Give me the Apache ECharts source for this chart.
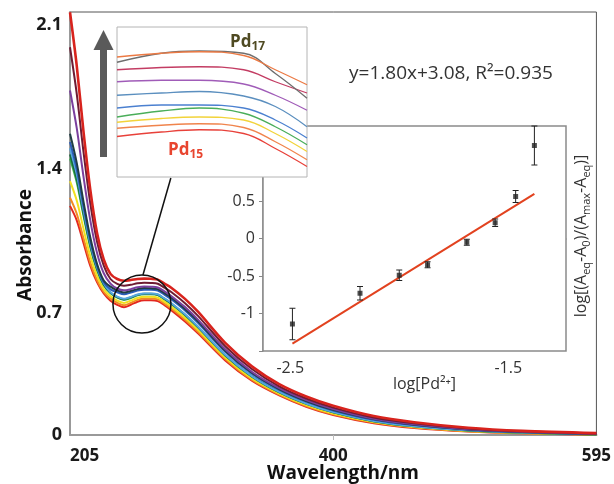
<!DOCTYPE html>
<html><head><meta charset="utf-8">
<script src="https://cdn.jsdelivr.net/npm/echarts@6/dist/echarts.min.js"></script>
<style>html,body{margin:0;padding:0;background:#fff}#c{width:614px;height:484px}</style>
</head><body><div id="c"></div>
<script>
// ---------- main spectra (wavelength nm vs absorbance) ----------
const wavelengths = [205,210,215,220,225,230,235,240,245,250,255,260,265,270,275,280,290,300,320,340,360,380,400,430,460,500,540,595];
const absRed15    = [1.22,1.15,1.04,0.93,0.85,0.795,0.76,0.74,0.728,0.74,0.755,0.762,0.762,0.758,0.738,0.714,0.66,0.60,0.47,0.37,0.30,0.245,0.205,0.165,0.142,0.125,0.116,0.109];
const absOrange   = [1.26,1.182,1.063,0.946,0.860,0.802,0.770,0.750,0.738,0.749,0.764,0.770,0.770,0.766,0.746,0.722,0.669,0.608,0.477,0.375,0.304,0.249,0.209,0.168,0.144,0.126,0.117,0.110];
const absYellow   = [1.34,1.246,1.109,0.977,0.881,0.816,0.781,0.760,0.749,0.760,0.773,0.779,0.779,0.775,0.755,0.732,0.678,0.617,0.484,0.381,0.309,0.253,0.212,0.171,0.147,0.128,0.118,0.110];
const absGreen    = [1.45,1.334,1.172,1.021,0.909,0.835,0.796,0.775,0.764,0.773,0.786,0.791,0.791,0.787,0.767,0.744,0.691,0.629,0.494,0.390,0.315,0.259,0.218,0.175,0.150,0.130,0.119,0.111];
const absDkGreen  = [1.47,1.350,1.184,1.028,0.914,0.839,0.799,0.777,0.766,0.776,0.788,0.793,0.793,0.789,0.769,0.746,0.693,0.631,0.495,0.391,0.316,0.260,0.218,0.175,0.150,0.130,0.120,0.111];
const absLtBlue   = [1.50,1.374,1.201,1.040,0.922,0.844,0.801,0.780,0.769,0.778,0.790,0.795,0.795,0.791,0.771,0.749,0.695,0.633,0.497,0.392,0.317,0.261,0.219,0.176,0.151,0.131,0.120,0.112];
const absBlue     = [1.53,1.398,1.218,1.052,0.929,0.849,0.815,0.801,0.791,0.799,0.809,0.813,0.813,0.809,0.789,0.767,0.714,0.651,0.512,0.404,0.327,0.270,0.227,0.182,0.156,0.134,0.122,0.113];
const absSlate    = [1.57,1.429,1.241,1.068,0.939,0.858,0.828,0.810,0.800,0.807,0.816,0.821,0.820,0.816,0.797,0.775,0.721,0.659,0.517,0.409,0.331,0.273,0.230,0.185,0.158,0.135,0.123,0.113];
const absPurple   = [1.78,1.597,1.362,1.151,0.993,0.893,0.843,0.819,0.810,0.816,0.825,0.829,0.828,0.824,0.805,0.783,0.730,0.667,0.524,0.414,0.335,0.277,0.234,0.187,0.160,0.136,0.124,0.114];
const absMaroon   = [1.99,1.764,1.482,1.233,1.047,0.930,0.865,0.841,0.832,0.837,0.844,0.847,0.846,0.842,0.823,0.802,0.749,0.685,0.539,0.427,0.344,0.285,0.241,0.193,0.165,0.140,0.126,0.115];
const absRed17    = [2.16,1.90,1.58,1.30,1.09,0.96,0.89,0.865,0.857,0.86,0.865,0.867,0.866,0.862,0.843,0.823,0.77,0.705,0.555,0.44,0.355,0.295,0.25,0.20,0.17,0.143,0.128,0.117];

const xTickValues = [205, 400, 595];
const yTickValues = [0.108, 0.7, 1.4, 2.1];
const yTickLabels = ['0', '0.7', '1.4', '2.1'];

// ---------- zoomed inset (top-left) ----------
const insetWl     = [250, 257, 263, 270, 275, 280];
const inRed       = [0.754,0.760,0.763,0.758,0.738,0.714];
const inOrange    = [0.765,0.769,0.771,0.766,0.747,0.723];
const inYellow    = [0.773,0.778,0.780,0.776,0.758,0.734];
const inGreen     = [0.780,0.788,0.792,0.785,0.767,0.743];
const inBlue      = [0.792,0.796,0.796,0.792,0.776,0.752];
const inSteel     = [0.809,0.812,0.814,0.808,0.794,0.767];
const inPurple    = [0.827,0.829,0.829,0.824,0.809,0.789];
const inCrimson   = [0.843,0.846,0.847,0.843,0.827,0.812];
const inGray      = [0.853,0.865,0.868,0.865,0.838,0.805];
const inTopOrange = [0.860,0.865,0.867,0.862,0.843,0.823];

// ---------- fit inset (right) ----------
const logPd     = [-2.49, -2.18, -2.00, -1.87, -1.69, -1.56, -1.466, -1.38];
const logRatio  = [-1.14, -0.73, -0.49, -0.35, -0.05, 0.21, 0.56, 1.24];
const ratioErr  = [0.21, 0.09, 0.07, 0.04, 0.04, 0.05, 0.08, 0.26];
const fitX      = [-2.49, -1.38];
const fitSlope = 1.80, fitIntercept = 3.08;
const fitXTickLabels = [-2.5, -1.5];
const fitXTicks = [-2.5, -2.25, -2.0, -1.75, -1.5];
const fitYTickLabels = [-1, -0.5, 0, 0.5];

const FONT = '"Open Sans", "Liberation Sans", sans-serif';
const chart = echarts.init(document.getElementById('c'));

const mainDefs = [
  [absRed15,  '#e3261f', 2],
  [absOrange, '#f28a22', 2],
  [absYellow, '#f1e01e', 2],
  [absGreen,  '#37b04a', 2],
  [absDkGreen,'#1b6a3c', 2],
  [absLtBlue, '#55a6e0', 2],
  [absBlue,   '#2b5cb8', 2],
  [absSlate,  '#1f3d44', 2],
  [absPurple, '#7a3f9e', 2],
  [absMaroon, '#6e1c33', 2],
  [absRed17,  '#d8231d', 2.6]
];
const insetDefs = [
  [inRed, '#e8413a'], [inOrange, '#f0844c'], [inYellow, '#f2d33a'], [inGreen, '#4aae5a'],
  [inBlue, '#4b80d0'], [inSteel, '#5b8fbf'], [inPurple, '#a05cb8'], [inCrimson, '#c33c63'],
  [inGray, '#6e6e6e'], [inTopOrange, '#ec7a44']
];

const series = [];
mainDefs.forEach(([arr, col, w]) => series.push({
  type: 'line', xAxisIndex: 0, yAxisIndex: 0, smooth: 0.3,
  showSymbol: false, silent: true, clip: true,
  data: wavelengths.map((x, i) => [x, arr[i]]),
  lineStyle: { color: col, width: w }, z: 2
}));
insetDefs.forEach(([arr, col]) => series.push({
  type: 'line', xAxisIndex: 2, yAxisIndex: 2, smooth: 0.4, showSymbol: false, silent: true,
  data: insetWl.map((x, i) => [x, arr[i]]),
  lineStyle: { color: col, width: 1.3 }, z: 7
}));
series.push({
  type: 'line', xAxisIndex: 1, yAxisIndex: 1, showSymbol: false, silent: true,
  data: fitX.map(x => [x, fitSlope * x + fitIntercept]),
  lineStyle: { color: '#e2421f', width: 2 }, z: 3
});
series.push({
  type: 'custom', xAxisIndex: 1, yAxisIndex: 1, silent: true, z: 4,
  data: logPd.map((x, i) => [x, logRatio[i] - ratioErr[i], logRatio[i] + ratioErr[i]]),
  renderItem: (params, api) => {
    const lo = api.coord([api.value(0), api.value(1)]);
    const hi = api.coord([api.value(0), api.value(2)]);
    const w = 3, st = { stroke: '#222', lineWidth: 1 };
    return { type: 'group', children: [
      { type: 'line', shape: { x1: lo[0], y1: lo[1], x2: hi[0], y2: hi[1] }, style: st },
      { type: 'line', shape: { x1: lo[0]-w, y1: lo[1], x2: lo[0]+w, y2: lo[1] }, style: st },
      { type: 'line', shape: { x1: hi[0]-w, y1: hi[1], x2: hi[0]+w, y2: hi[1] }, style: st }
    ]};
  }
});
series.push({
  type: 'scatter', xAxisIndex: 1, yAxisIndex: 1, symbol: 'rect', symbolSize: 5, silent: true, z: 5,
  data: logPd.map((x, i) => [x, logRatio[i]]),
  itemStyle: { color: '#222' }
});

chart.setOption({
  animation: false,
  backgroundColor: '#fff',
  textStyle: { fontFamily: FONT },
  grid: [
    { left: 70, top: 12, width: 531, height: 423, show: true, borderColor: '#555', borderWidth: 1, z: 0 },
    { left: 263, top: 126, width: 303, height: 225, show: true, borderColor: '#8a8a8a', borderWidth: 1.5, backgroundColor: '#fff', z: 1 },
    { left: 117, top: 27, width: 190, height: 150, show: true, borderColor: '#b4b4b4', borderWidth: 1, backgroundColor: '#fff', z: 6 }
  ],
  xAxis: [
    { type: 'value', gridIndex: 0, min: 205, max: 595,
      axisLine: { lineStyle: { color: '#999', width: 2 } },
      axisTick: { show: true, length: 5, customValues: [400], lineStyle: { color: '#bbb' } },
      axisLabel: { customValues: xTickValues, fontSize: 17, fontWeight: 'bold', color: '#1a1a1a', margin: 13, alignMinLabel: 'left', fontFamily: FONT },
      splitLine: { show: false } },
    { type: 'value', gridIndex: 1, min: -2.625, max: -1.235,
      axisLine: { lineStyle: { color: '#8a8a8a', width: 1.5 } },
      axisTick: { show: true, inside: true, length: 4, customValues: fitXTicks, lineStyle: { color: '#888' } },
      axisLabel: { customValues: fitXTickLabels, fontSize: 16, color: '#333', margin: 9, fontFamily: FONT },
      splitLine: { show: false },
      name: 'log[Pd²⁺]', nameLocation: 'middle', nameGap: 19,
      nameTextStyle: { fontSize: 16, color: '#333', padding: [0, 0, 0, 20], fontFamily: FONT } },
    { type: 'value', gridIndex: 2, min: 250, max: 280, show: false }
  ],
  yAxis: [
    { type: 'value', gridIndex: 0, min: 0.108, max: 2.161,
      axisLine: { show: true, lineStyle: { color: '#999', width: 2 } },
      axisTick: { show: false },
      axisLabel: { customValues: yTickValues, fontSize: 18, fontWeight: 'bold', color: '#1a1a1a', margin: 8, fontFamily: FONT,
        formatter: v => { const i = yTickValues.findIndex(t => Math.abs(t - v) < 1e-6); return i >= 0 ? yTickLabels[i] : ''; } },
      splitLine: { show: false } },
    { type: 'value', gridIndex: 1, min: -1.5, max: 1.5, interval: 0.5,
      axisLine: { show: true, lineStyle: { color: '#8a8a8a', width: 1.5 } },
      axisTick: { show: true, length: 4, lineStyle: { color: '#888' } },
      axisLabel: { customValues: fitYTickLabels, fontSize: 16, color: '#333', margin: 8, fontFamily: FONT },
      splitLine: { show: false } },
    { type: 'value', gridIndex: 2, min: 0.70, max: 0.90, show: false }
  ],
  series: series
});

// annotations positioned through the axes
const circC = chart.convertToPixel({ gridIndex: 0 }, [258.3, 0.744]);
const circR = 29;
const linkTop = chart.convertToPixel({ gridIndex: 2 }, [258.5, 0.70]);
const sub = (sz) => ({ fontSize: sz, fontWeight: 'bold', fontFamily: FONT, verticalAlign: 'bottom', lineHeight: 22 });

chart.setOption({
  graphic: [
    { type: 'polygon', z: 20, shape: { points: [[100,157],[107,157],[107,50],[113.5,50],[103.5,30],[93.5,50],[100,50]] }, style: { fill: '#5a5a5a' } },
    { type: 'circle', z: 20, shape: { cx: circC[0], cy: circC[1], r: circR }, style: { fill: 'none', stroke: '#111', lineWidth: 1.5 } },
    { type: 'line', z: 20, shape: { x1: linkTop[0], y1: linkTop[1] + 1, x2: circC[0] + 1, y2: circC[1] - circR }, style: { stroke: '#111', lineWidth: 1.5 } },
    { type: 'text', z: 20, x: 230, y: 42, style: {
        text: '{a|Pd}{b|17}', textAlign: 'left', textVerticalAlign: 'middle', align: 'left', verticalAlign: 'middle',
        rich: { a: { fontSize: 17, fontWeight: 'bold', fontFamily: FONT, fill: '#4f4a22', verticalAlign: 'middle', lineHeight: 22 },
                b: Object.assign(sub(12), { fill: '#4f4a22' }) } } },
    { type: 'text', z: 20, x: 168, y: 150, style: {
        text: '{a|Pd}{b|15}', textAlign: 'left', textVerticalAlign: 'middle', align: 'left', verticalAlign: 'middle',
        rich: { a: { fontSize: 17, fontWeight: 'bold', fontFamily: FONT, fill: '#e8452f', verticalAlign: 'middle', lineHeight: 22 },
                b: Object.assign(sub(12), { fill: '#e8452f' }) } } },
    { type: 'text', z: 20, x: 451, y: 74, style: {
        text: 'y=1.80x+3.08, R²=0.935', font: '19px ' + FONT, fill: '#333',
        textAlign: 'center', textVerticalAlign: 'middle', align: 'center', verticalAlign: 'middle' } },
    { type: 'text', z: 20, x: 26, y: 245, rotation: Math.PI / 2, style: {
        text: 'Absorbance', font: 'bold 19px ' + FONT, fill: '#111',
        textAlign: 'center', textVerticalAlign: 'middle', align: 'center', verticalAlign: 'middle' } },
    { type: 'text', z: 20, x: 343, y: 474, style: {
        text: 'Wavelength/nm', font: 'bold 19px ' + FONT, fill: '#111',
        textAlign: 'center', textVerticalAlign: 'middle', align: 'center', verticalAlign: 'middle' } },
    { type: 'text', z: 20, x: 581, y: 236, rotation: Math.PI / 2, style: {
        text: '{a|log[(A}{s|eq}{a|-A}{s|0}{a|)/(A}{s|max}{a|-A}{s|eq}{a|)]}',
        textAlign: 'center', textVerticalAlign: 'middle', align: 'center', verticalAlign: 'middle',
        rich: { a: { fontSize: 16, fontFamily: FONT, fill: '#333', verticalAlign: 'middle', lineHeight: 22 },
                s: { fontSize: 11, fontFamily: FONT, fill: '#333', verticalAlign: 'bottom', lineHeight: 22 } } } }
  ]
});
</script>
</body></html>
